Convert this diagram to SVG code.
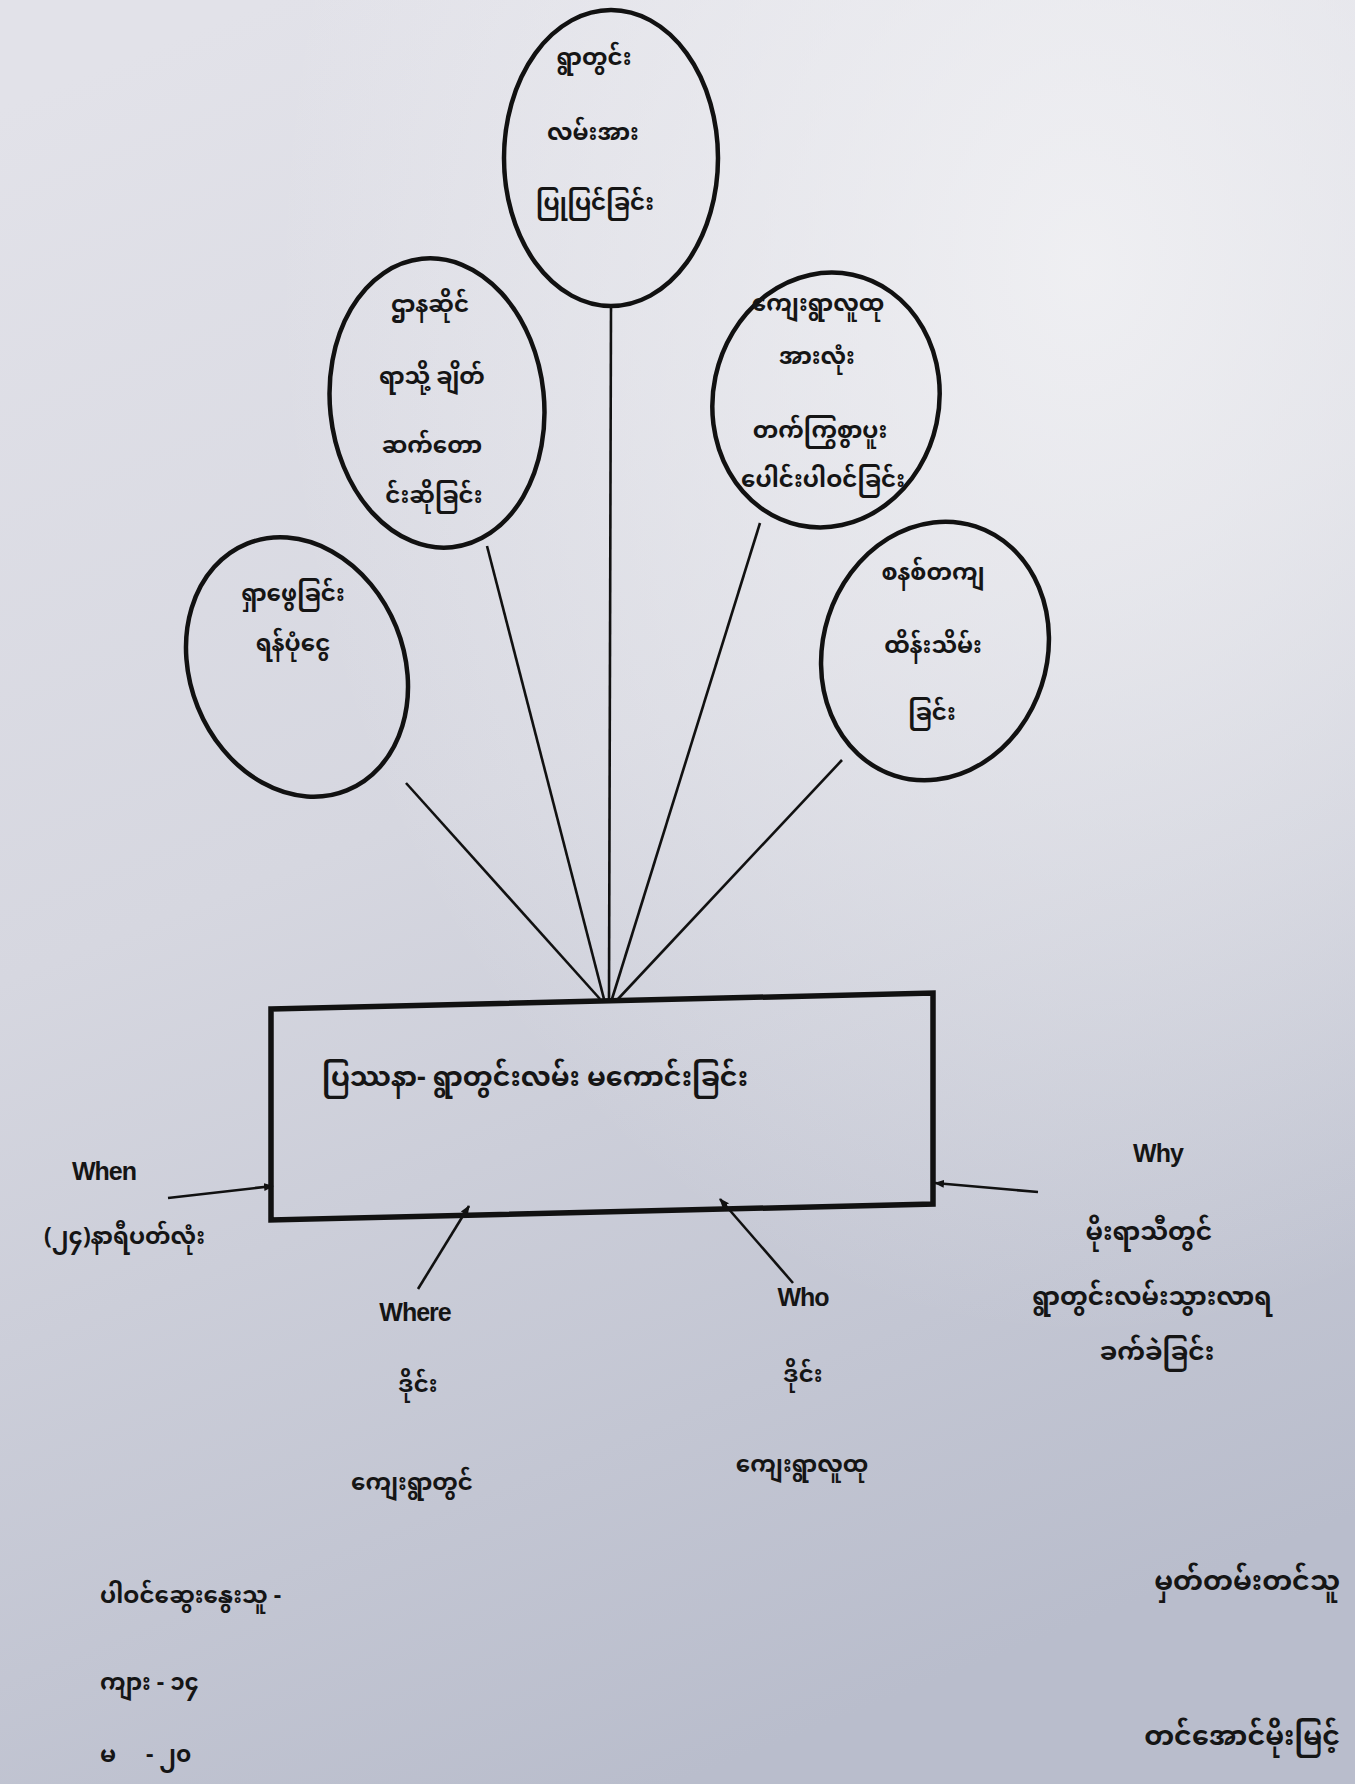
<svg xmlns="http://www.w3.org/2000/svg" width="1355" height="1784" viewBox="0 0 1355 1784">
<defs>
<linearGradient id="paper" x1="0.2" y1="0" x2="0.5" y2="1">
<stop offset="0" stop-color="#e2e2e9"/>
<stop offset="0.45" stop-color="#d6d7e0"/>
<stop offset="1" stop-color="#b9bdcc"/>
</linearGradient>
<radialGradient id="glow" cx="0.8" cy="0.15" r="0.6">
<stop offset="0" stop-color="#f4f4f6" stop-opacity="0.8"/>
<stop offset="1" stop-color="#f4f4f6" stop-opacity="0"/>
</radialGradient>
<marker id="ah" markerWidth="10" markerHeight="10" refX="9" refY="5" orient="auto" markerUnits="userSpaceOnUse">
<path d="M0,1 L10,5 L0,9 Z" fill="#111"/>
</marker>
<style>
.el{fill:none;stroke:#111;stroke-width:4.5}
.ln{stroke:#111;stroke-width:2.6;fill:none}
.ar{stroke:#111;stroke-width:2.6;fill:none;marker-end:url(#ah)}
.mm{font-family:"Noto Sans Myanmar","Padauk","Myanmar Text","Noto Sans",sans-serif;font-size:23px;font-weight:bold;fill:#151515;text-anchor:middle}
.en{font-family:"Liberation Sans",Arial,sans-serif;font-weight:bold;font-size:25px;fill:#151515;text-anchor:middle;letter-spacing:-1px}
.st{text-anchor:start}
.ed{text-anchor:end}
</style>
</defs>
<rect width="1355" height="1784" fill="url(#paper)"/>
<rect width="1355" height="1784" fill="url(#glow)"/>

<g id="connectors">
<line class="ln" x1="611" y1="306" x2="609" y2="999"/>
<line class="ln" x1="487" y1="546" x2="604" y2="999"/>
<line class="ln" x1="760" y1="523" x2="612" y2="999"/>
<line class="ln" x1="406" y1="783" x2="600" y2="999"/>
<line class="ln" x1="842" y1="760" x2="618" y2="999"/>
<line class="ar" x1="168" y1="1198" x2="273" y2="1186"/>
<line class="ar" x1="418" y1="1289" x2="469" y2="1206"/>
<line class="ar" x1="793" y1="1283" x2="720" y2="1199"/>
<line class="ar" x1="1038" y1="1192" x2="935" y2="1183"/>
</g>

<g id="n-top">
<ellipse class="el" cx="611" cy="158" rx="107" ry="148"/>
<text class="mm" x="594" y="65">ရွာတွင်း</text>
<text class="mm" x="593" y="140">လမ်းအား</text>
<text class="mm" x="595" y="210">ပြုပြင်ခြင်း</text>
</g>

<g id="n-upper-left">
<ellipse class="el" cx="437" cy="403" rx="107" ry="145" transform="rotate(-6 437 403)"/>
<text class="mm" x="430" y="312">ဌာနဆိုင်</text>
<text class="mm" x="432" y="384">ရာသို့ ချိတ်</text>
<text class="mm" x="432" y="453">ဆက်တော</text>
<text class="mm" x="434" y="503">င်းဆိုခြင်း</text>
</g>

<g id="n-upper-right">
<ellipse class="el" cx="826" cy="400" rx="113" ry="128" transform="rotate(12 826 400)"/>
<text class="mm" x="818" y="311">ကျေးရွာလူထု</text>
<text class="mm" x="817" y="364">အားလုံး</text>
<text class="mm" x="820" y="438">တက်ကြွစွာပူး</text>
<text class="mm" x="823" y="487">ပေါင်းပါဝင်ခြင်း</text>
</g>

<g id="n-lower-left">
<ellipse class="el" cx="297" cy="667" rx="107" ry="133" transform="rotate(-22 297 667)"/>
<text class="mm" x="293" y="601">ရှာဖွေခြင်း</text>
<text class="mm" x="293" y="651">ရန်ပုံငွေ</text>
</g>

<g id="n-lower-right">
<ellipse class="el" cx="935" cy="651" rx="112" ry="131" transform="rotate(18 935 651)"/>
<text class="mm" x="933" y="580">စနစ်တကျ</text>
<text class="mm" x="933" y="653">ထိန်းသိမ်း</text>
<text class="mm" x="932" y="720">ခြင်း</text>
</g>

<g id="n-problem">
<polygon points="271,1009 933,993 933,1204 271,1220" fill="none" stroke="#111" stroke-width="5.5"/>
<text class="mm st" x="322" y="1086" style="font-size:27px">ပြဿနာ- ရွာတွင်းလမ်း မကောင်းခြင်း</text>
</g>

<g id="n-when">
<text class="en" x="104" y="1180">When</text>
<text class="mm st" x="44" y="1244">(၂၄)နာရီပတ်လုံး</text>
</g>

<g id="n-where">
<text class="en" x="415" y="1321">Where</text>
<text class="mm" x="418" y="1392">ဒိုင်း</text>
<text class="mm" x="412" y="1490">ကျေးရွာတွင်</text>
</g>

<g id="n-who">
<text class="en" x="803" y="1306">Who</text>
<text class="mm" x="803" y="1382">ဒိုင်း</text>
<text class="mm" x="802" y="1472">ကျေးရွာလူထု</text>
</g>

<g id="n-why">
<text class="en" x="1158" y="1162">Why</text>
<text class="mm" x="1149" y="1240" style="font-size:25px">မိုးရာသီတွင်</text>
<text class="mm" x="1152" y="1305" style="font-size:25px">ရွာတွင်းလမ်းသွားလာရ</text>
<text class="mm" x="1157" y="1360" style="font-size:25px">ခက်ခဲခြင်း</text>
</g>

<g id="n-participants">
<text class="mm st" x="100" y="1603">ပါဝင်ဆွေးနွေးသူ -</text>
<text class="mm st" x="100" y="1690">ကျား - ၁၄</text>
<text class="mm st" x="100" y="1762" xml:space="preserve">မ     - ၂၀</text>
</g>

<g id="n-recorder">
<text class="mm ed" x="1340" y="1590" style="font-size:27px">မှတ်တမ်းတင်သူ</text>
<text class="mm ed" x="1340" y="1745" style="font-size:27px">တင်အောင်မိုးမြင့်</text>
</g>
</svg>
